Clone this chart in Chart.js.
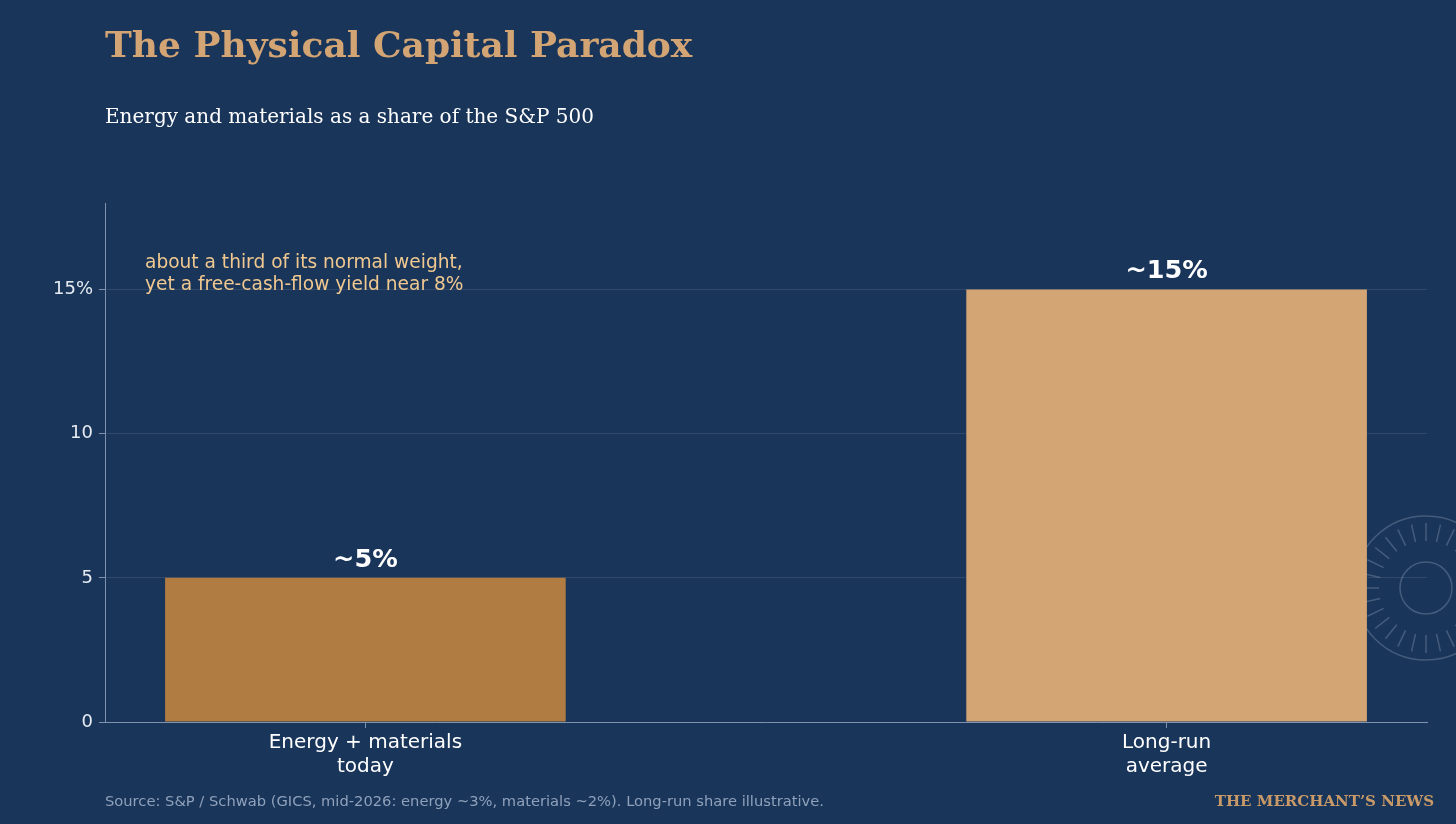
<!DOCTYPE html>
<html>
<head>
<meta charset="utf-8">
<script src="https://cdn.jsdelivr.net/npm/chart.js@4/dist/chart.umd.min.js"></script>
<style>
  html, body { margin: 0; padding: 0; background: #19355a; }
  #wrap { position: relative; width: 1456px; height: 824px; overflow: hidden; }
  #chart { position: absolute; left: 0; top: 0; }
  .txt { position: absolute; white-space: nowrap; }
  #title { left: 105px; top: 23px; font: bold 36px "DejaVu Serif"; color: #d4a574; }
  #subtitle { left: 105px; top: 104px; font: 20px "DejaVu Serif"; color: #ffffff; }
  #source { left: 105px; top: 792px; font: 14.7px "DejaVu Sans"; color: #8fa1bb; }
  #brand { right: 22px; top: 792px; font: bold 15px "DejaVu Serif"; color: #c99a68; }
</style>
</head>
<body>
<div id="wrap">
  <canvas id="chart" width="1456" height="824"></canvas>
  <div class="txt" id="title">The Physical Capital Paradox</div>
  <div class="txt" id="subtitle">Energy and materials as a share of the S&amp;P 500</div>
  <div class="txt" id="source">Source: S&amp;P / Schwab (GICS, mid-2026: energy ~3%, materials ~2%). Long-run share illustrative.</div>
  <div class="txt" id="brand">THE MERCHANT’S NEWS</div>
</div>
<script>
const categories = [["Energy + materials", "today"], ["Long-run", "average"]];
const shares = [5, 15];
const valueLabels = ["~5%", "~15%"];
const barColors = ["#b07c42", "#d4a574"];
const yTicks = [0, 5, 10, 15];
const note = ["about a third of its normal weight,", "yet a free-cash-flow yield near 8%"];

// faint clock-like wheel behind the right bar
const wheelPlugin = {
    id: "wheel",
    beforeDatasetsDraw(chart) {
        const { ctx, chartArea } = chart;
        const cx = chartArea.right - 1;
        const cy = 588;
        ctx.save();
        ctx.strokeStyle = "rgba(150, 165, 190, 0.35)";
        ctx.lineWidth = 1.5;
        ctx.beginPath();
        ctx.arc(cx, cy, 72, 0, Math.PI * 2);
        ctx.stroke();
        ctx.beginPath();
        ctx.arc(cx, cy, 26, 0, Math.PI * 2);
        ctx.stroke();
        for (let i = 0; i < 28; i++) {
            const a = (i / 28) * Math.PI * 2;
            ctx.beginPath();
            ctx.moveTo(cx + Math.cos(a) * 47, cy + Math.sin(a) * 47);
            ctx.lineTo(cx + Math.cos(a) * 65, cy + Math.sin(a) * 65);
            ctx.stroke();
        }
        ctx.restore();
    },
};

const labelPlugin = {
    id: "labels",
    afterDatasetsDraw(chart) {
        const { ctx, chartArea } = chart;
        const meta = chart.getDatasetMeta(0);
        ctx.save();
        ctx.fillStyle = "#ffffff";
        ctx.font = "bold 25.5px 'DejaVu Sans'";
        ctx.textAlign = "center";
        ctx.textBaseline = "bottom";
        meta.data.forEach((bar, i) => {
            ctx.fillText(valueLabels[i], bar.x, bar.y - 5);
        });
        ctx.fillStyle = "#f0c890";
        ctx.font = "18.6px 'DejaVu Sans'";
        ctx.textAlign = "left";
        ctx.textBaseline = "middle";
        note.forEach((line, i) => {
            ctx.fillText(line, chartArea.left + 40, 263 + i * 22);
        });
        ctx.restore();
    },
};

new Chart(document.getElementById("chart"), {
    type: "bar",
    data: {
        datasets: [
            {
                data: shares.map((v, i) => ({ x: i, y: v })),
                backgroundColor: barColors,
                borderWidth: 0,
                categoryPercentage: 1,
                barPercentage: 0.5,
            },
        ],
    },
    options: {
        responsive: false,
        animation: false,
        layout: { padding: { left: 0, right: 29, top: 203, bottom: 42 } },
        plugins: {
            legend: { display: false },
            tooltip: { enabled: false },
        },
        scales: {
            x: {
                type: "linear",
                offset: false,
                min: -0.325,
                max: 1.325,
                afterBuildTicks: (scale) => {
                    scale.ticks = categories.map((c, i) => ({ value: i }));
                },
                afterFit: (scale) => {
                    scale.height = 60;
                },
                ticks: {
                    color: "#ffffff",
                    font: { family: "DejaVu Sans", size: 20 },
                    padding: 3,
                    maxRotation: 0,
                    autoSkip: false,
                    callback: (v) => categories[v],
                },
                grid: {
                    offset: false,
                    drawOnChartArea: false,
                    drawTicks: true,
                    tickLength: 6,
                    tickColor: "#7f93ad",
                },
                border: { color: "#7f93ad", width: 1 },
            },
            y: {
                min: 0,
                max: 18,
                afterBuildTicks: (scale) => {
                    scale.ticks = yTicks.map((v) => ({ value: v }));
                },
                afterFit: (scale) => {
                    scale.width = 105;
                },
                ticks: {
                    color: "#e6ebf2",
                    font: { family: "DejaVu Sans", size: 18 },
                    padding: 6,
                    callback: (v) => (v === 15 ? "15%" : String(v)),
                },
                grid: {
                    color: "rgba(255, 255, 255, 0.1)",
                    lineWidth: 1,
                    tickLength: 6,
                    tickColor: "#7f93ad",
                },
                border: { color: "#7f93ad", width: 1 },
            },
        },
    },
    plugins: [wheelPlugin, labelPlugin],
});
</script>
</body>
</html>
